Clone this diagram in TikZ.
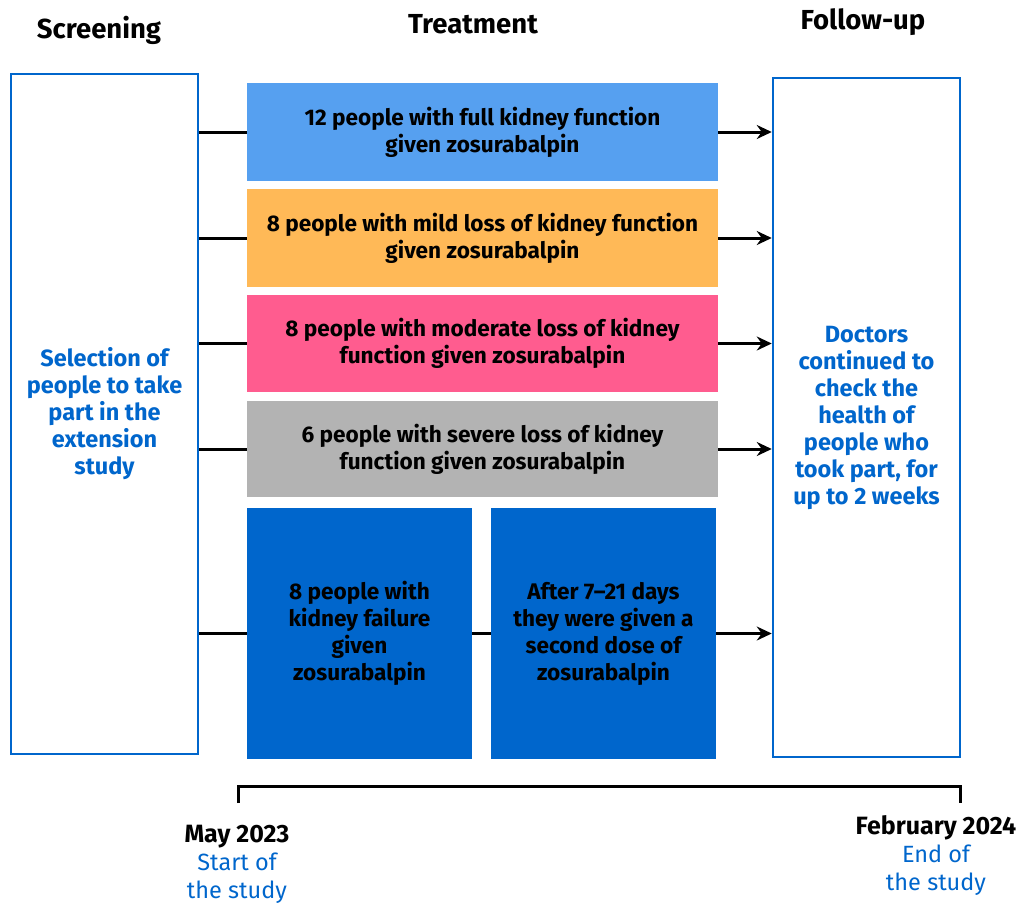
\documentclass[tikz,border=0pt]{standalone}
\usepackage{fontspec}
\setmainfont{Fira Sans}
\usetikzlibrary{arrows.meta}
\definecolor{ttblue}{HTML}{0066CC}
\definecolor{lblue}{HTML}{56A0F0}
\definecolor{lorange}{HTML}{FFB957}
\definecolor{lpink}{HTML}{FF5C8F}
\definecolor{lgray}{HTML}{B3B3B3}
\definecolor{dblue}{HTML}{0066CC}
\tikzset{
  sidebox/.style={draw=ttblue, line width=2.5pt, fill=white, minimum width=187pt, minimum height=680pt, inner sep=0pt, align=center, text=ttblue, font=\fontsize{23.5}{27}\selectfont\bfseries},
  bar/.style={minimum width=471pt, minimum height=98pt, inner sep=0pt, align=center, font=\fontsize{22.6}{27}\selectfont\bfseries},
  half/.style={fill=dblue, minimum width=225pt, minimum height=251pt, inner sep=0pt, align=center, font=\fontsize{22.6}{27}\selectfont\bfseries},
  head/.style={font=\fontsize{27.5}{30}\selectfont\bfseries},
  link/.style={line width=3pt, black},
  arr/.style={line width=3pt, black, -{Stealth[length=15pt,width=14pt,inset=5pt]}},
  datelbl/.style={align=center, font=\fontsize{23.5}{28}\selectfont}
}
\begin{document}
\begin{tikzpicture}[x=1pt,y=-1pt]
\useasboundingbox (0,0) rectangle (1018,903);
\node[head] (h1) at (99,30) {Screening};
\node[head] (h2) at (473,24) {Treatment};
\node[head] (h3) at (863,22) {Follow-up};

\node[sidebox] (scr) at (104.5,414) {Selection of\\people to take\\part in the\\extension\\study};
\node[sidebox, minimum height=679pt] (fu) at (866.5,417.5) {Doctors\\continued to\\check the\\health of\\people who\\took part, for\\up to 2 weeks};

\node[bar, fill=lblue] (b1) at (482.5,132) {12 people with full kidney function\\given zosurabalpin};
\node[bar, fill=lorange] (b2) at (482.5,238) {8 people with mild loss of kidney function\\given zosurabalpin};
\node[bar, fill=lpink, minimum height=97pt] (b3) at (482.5,343.5) {8 people with moderate loss of kidney\\function given zosurabalpin};
\node[bar, fill=lgray, minimum height=96pt] (b4) at (482.5,449) {6 people with severe loss of kidney\\function given zosurabalpin};
\node[half] (b5) at (359.5,633.5) {8 people with\\kidney failure\\given\\zosurabalpin};
\node[half] (b6) at (603.5,633.5) {After 7--21 days\\they were given a\\second dose of\\zosurabalpin};

\foreach \b in {b1,b2,b3,b4,b5}{
  \draw[link] (scr.east |- \b.west) -- (\b.west);
}
\foreach \b in {b1,b2,b3,b4,b6}{
  \draw[arr] (\b.east) -- (\b.east -| fu.west);
}
\draw[link] (b5.east) -- (b6.west);

\coordinate (ba) at (238,803);
\coordinate (bb) at (238,786);
\coordinate (bc) at (960,786);
\coordinate (bd) at (960,803);
\draw[line width=3pt, line join=miter] (ba) -- (bb) -- (bc) -- (bd);

\node[datelbl] (d1) at (237,864) {{\fontsize{25}{28}\selectfont\bfseries May 2023}\\\textcolor{ttblue}{Start of}\\\textcolor{ttblue}{the study}};
\node[datelbl] (d2) at (936,856) {{\fontsize{25}{28}\selectfont\bfseries February 2024}\\\textcolor{ttblue}{End of}\\\textcolor{ttblue}{the study}};
\end{tikzpicture}
\end{document}
